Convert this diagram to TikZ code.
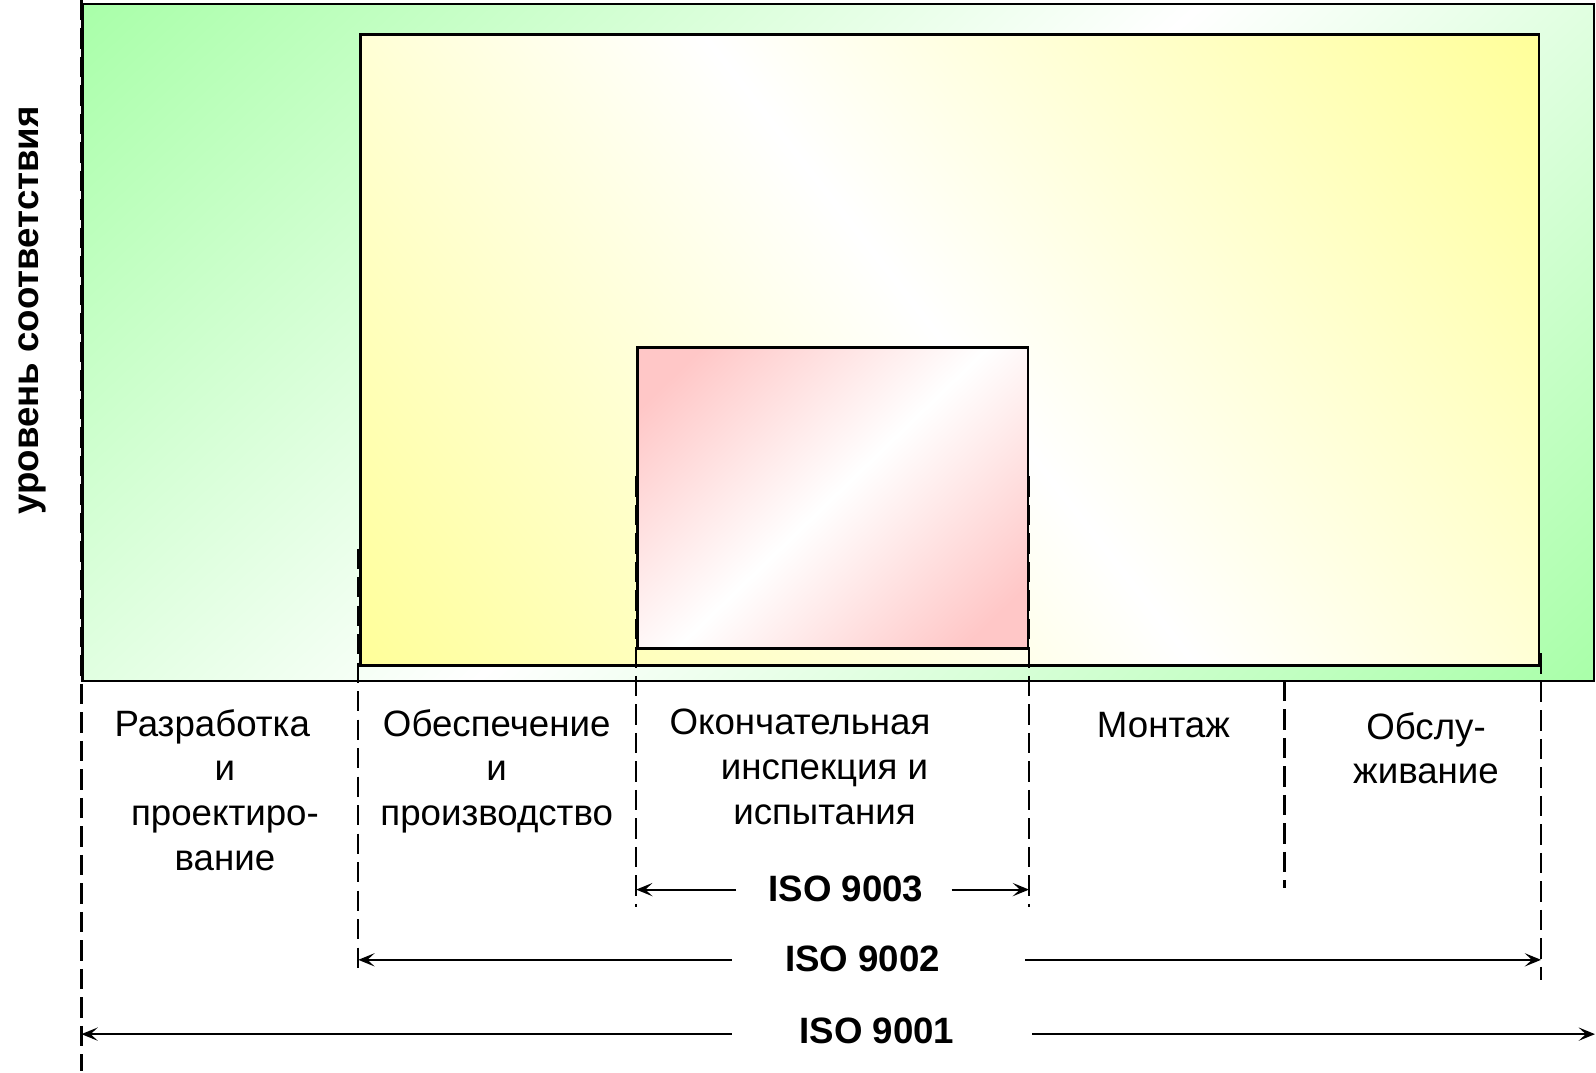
\documentclass[tikz,border=0pt]{standalone}
\usepackage{fontspec}
\setmainfont{Liberation Sans}
\usepackage{tikz}
\usetikzlibrary{arrows.meta}
\pgfdeclareverticalshading{greenband}{100bp}{color(0bp)=(green!38); color(10bp)=(green!38); color(50bp)=(white); color(90bp)=(green!38); color(100bp)=(green!38)}
\pgfdeclareverticalshading{yellowband}{100bp}{color(0bp)=(yellow!42); color(13bp)=(yellow!42); color(50bp)=(white); color(87bp)=(yellow!42); color(100bp)=(yellow!42)}
\pgfdeclareverticalshading{pinkband}{100bp}{color(0bp)=(red!22); color(21bp)=(red!22); color(50bp)=(white); color(79bp)=(red!22); color(100bp)=(red!22)}

\begin{document}
\begin{tikzpicture}[
  font=\fontsize{10.25}{12.5}\selectfont,
  box/.style={draw=black,line width=0.8pt,shade},
  guide/.style={line width=0.65pt,dash pattern=on 0.2cm off 0.08cm},
  isoarrow/.style={line width=0.6pt,-{Stealth[length=1.6mm,width=1.3mm,inset=0.7mm]}},
  phase/.style={anchor=north,align=center,inner sep=0pt},
  isolabel/.style={anchor=base,inner sep=0pt,font=\fontsize{10.25}{12.5}\selectfont\bfseries}
]
\useasboundingbox (0,0) rectangle (15.68,10.54);
\draw[box,shading=greenband,shading angle=43] (0.81,3.85) rectangle (15.66,10.50);
\draw[box,shading=yellowband,shading angle=-52] (3.54,4.00) rectangle (15.12,10.20);
\draw[box,shading=pinkband,shading angle=44] (6.26,4.17) rectangle (10.10,7.13);

\node[rotate=90,anchor=base,inner sep=0pt,font=\fontsize{10.25}{12.5}\selectfont\bfseries] (level) at (0.38,7.49) {уровень соответствия};

\draw[guide] (0.80,10.54) -- (0.80,0.02);
\draw[guide] (3.52,5.15) -- (3.52,1.02);
\draw[guide] (6.25,5.86) -- (6.25,1.63);
\draw[guide] (10.11,5.86) -- (10.11,1.63);
\draw[guide] (12.62,3.85) -- (12.62,1.82);
\draw[guide] (15.14,4.12) -- (15.14,0.91);

\node[phase] (dev) at (2.21,3.58) {Разработка\hspace*{0.25cm}\\и\\проектиро-\\вание};
\node[phase] (prod) at (4.88,3.58) {Обеспечение\\и\\производство};
\node[phase] (insp) at (8.10,3.58) {Окончательная\hspace*{0.48cm}\\инспекция и\\испытания};
\node[phase] (mount) at (11.43,3.55) {Монтаж};
\node[phase] (serv) at (14.01,3.55) {Обслу-\\живание};

\coordinate (a3l) at (6.25,1.80);
\coordinate (a3r) at (10.11,1.80);
\coordinate (a2l) at (3.52,1.11);
\coordinate (a2r) at (15.14,1.11);
\coordinate (a1l) at (0.80,0.38);
\coordinate (a1r) at (15.67,0.38);

\node[isolabel] (iso3) at (8.31,1.68) {ISO 9003};
\node[isolabel] (iso2) at (8.475,1.00) {ISO 9002};
\node[isolabel] (iso1) at (8.615,0.29) {ISO 9001};

\draw[isoarrow,shorten <=0.31cm] (iso3.west |- a3l) -- (a3l);
\draw[isoarrow,shorten <=0.27cm] (iso3.east |- a3r) -- (a3r);
\draw[isoarrow,shorten <=0.52cm] (iso2.west |- a2l) -- (a2l);
\draw[isoarrow,shorten <=0.83cm] (iso2.east |- a2r) -- (a2r);
\draw[isoarrow,shorten <=0.66cm] (iso1.west |- a1l) -- (a1l);
\draw[isoarrow,shorten <=0.76cm] (iso1.east |- a1r) -- (a1r);
\end{tikzpicture}
\end{document}
